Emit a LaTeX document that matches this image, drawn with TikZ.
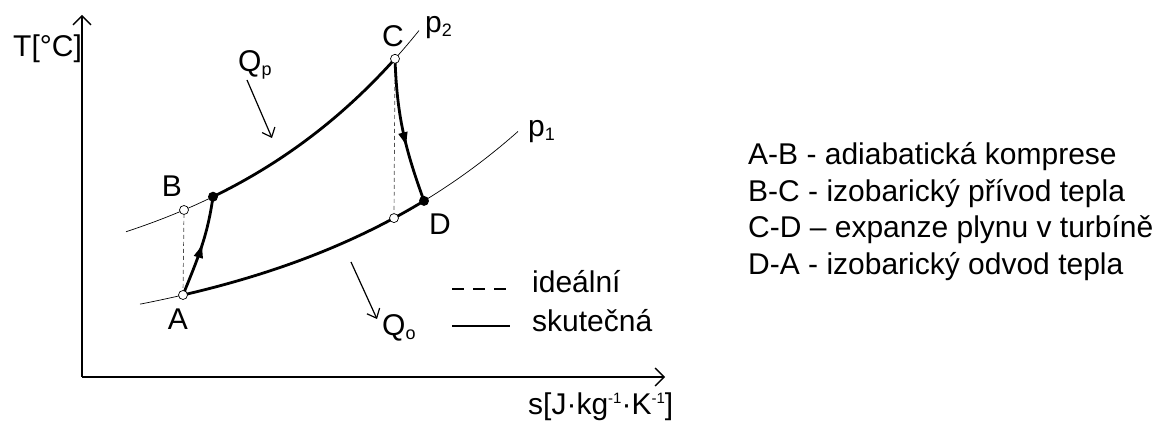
\documentclass[tikz,border=0pt]{standalone}
\usepackage{fontspec}
\setmainfont{Liberation Sans}
\usetikzlibrary{arrows.meta,decorations.markings}
\newcommand\subs[1]{\raisebox{-4pt}{\fontsize{18}{18}\selectfont #1}}
\newcommand\sups[1]{\raisebox{11pt}{\fontsize{15}{15}\selectfont #1}}
\begin{document}
\begin{tikzpicture}[x=1pt,y=1pt,
  lbl/.style={inner sep=0pt, font=\fontsize{30}{36}\selectfont},
  axis/.style={line width=1.4pt, -{Straight Barb[length=9pt,width=18pt,line width=1.4pt]}},
  qarrow/.style={line width=1.2pt, -{Straight Barb[length=8pt,width=14pt,line width=1.2pt]}},
  iso/.style={line width=0.7pt},
  cyc/.style={line width=2.8pt},
  idealline/.style={line width=0.7pt, dash pattern=on 4pt off 3pt, black!70},
  legdash/.style={line width=1.2pt, dash pattern=on 12pt off 9pt},
  legsolid/.style={line width=1.2pt},
  opencirc/.style={circle, draw, fill=white, minimum size=9pt, inner sep=0pt, line width=0.7pt},
  dotcirc/.style={circle, fill=black, minimum size=10pt, inner sep=0pt},
  midarrow/.style={postaction={decorate}, decoration={markings, mark=at position #1 with {\arrow{Latex[length=16pt,width=10pt]}}}}
]
\useasboundingbox (0,0) rectangle (1165,428);
% axes
\coordinate (O) at (82,51);
\coordinate (Ytip) at (82,413);
\coordinate (Xtip) at (665,51);
\draw[axis] (O) -- (Ytip);
\draw[axis] (O) -- (Xtip);
% isobars
\draw[iso] plot[domain=126:419, samples=80] (\x, {124.1+40.7*exp(\x/220)});
\draw[iso] plot[domain=140:518, samples=80] (\x, {75+27.9*exp(\x/250)});
% points
\coordinate (A)  at (183,{75+27.9*exp(183/250)});
\coordinate (D2) at (394,{75+27.9*exp(394/250)});
\coordinate (D)  at (424,{75+27.9*exp(424/250)});
\coordinate (B)  at (184,{124.1+40.7*exp(184/220)});
\coordinate (B2) at (213,{124.1+40.7*exp(213/220)});
\coordinate (C)  at (395,{124.1+40.7*exp(395/220)});
% thick isobaric parts
\draw[cyc] plot[domain=213:395, samples=60] (\x, {124.1+40.7*exp(\x/220)});
\draw[cyc] plot[domain=183:424, samples=60] (\x, {75+27.9*exp(\x/250)});
% ideal lines
\draw[idealline] (A) -- (B);
\draw[idealline] (C) -- (D2);
% real compression / expansion
\draw[cyc, midarrow=0.55] (A) to[out=68,in=-98] (B2);
\draw[cyc, midarrow=0.62] (C) to[out=-88,in=110] (D);
% markers
\node[opencirc] (nA) at (A) {};
\node[opencirc] (nB) at (B) {};
\node[opencirc] (nC) at (C) {};
\node[opencirc] (nD2) at (D2) {};
\node[dotcirc] (nB2) at (B2) {};
\node[dotcirc] (nD) at (D) {};
% heat arrows
\coordinate (qp1) at (247,348);
\coordinate (qp2) at (272,290);
\draw[qarrow] (qp1) -- (qp2);
\coordinate (qo1) at (351,166);
\coordinate (qo2) at (377,109);
\draw[qarrow] (qo1) -- (qo2);
% labels
\node[lbl, anchor=base west] (lT) at (13,371) {T[°C]};
\node[lbl, anchor=base] (lC) at (393,381) {C};
\node[lbl, anchor=base west] (lp2) at (425,395) {p\subs{2}};
\node[lbl, anchor=base west] (lp1) at (528,291) {p\subs{1}};
\node[lbl, anchor=base] (lB) at (172,231) {B};
\node[lbl, anchor=base] (lA) at (178,98) {A};
\node[lbl, anchor=base] (lD) at (440,193) {D};
\node[lbl, anchor=base west] (lQp) at (238,356) {Q\subs{p}};
\node[lbl, anchor=base west] (lQo) at (382,92) {Q\subs{o}};
\node[lbl, anchor=base west] (ls) at (528,13) {s[J·kg\sups{-1}·K\sups{-1}]};
% legend
\coordinate (l1a) at (452,139);
\coordinate (l1b) at (510,139);
\draw[legdash] (l1a) -- (l1b);
\node[lbl, anchor=base west] (lid) at (532,135) {ideální};
\coordinate (l2a) at (452,102);
\coordinate (l2b) at (510,102);
\draw[legsolid] (l2a) -- (l2b);
\node[lbl, anchor=base west] (lsk) at (532,96) {skutečná};
% process list
\node[lbl, anchor=base west] (t1) at (748,263) {A-B - adiabatická komprese};
\node[lbl, anchor=base west] (t2) at (748,226.5) {B-C - izobarický přívod tepla};
\node[lbl, anchor=base west] (t3) at (748,190) {C-D – expanze plynu v turbíně};
\node[lbl, anchor=base west] (t4) at (748,153.5) {D-A - izobarický odvod tepla};
\end{tikzpicture}
\end{document}
